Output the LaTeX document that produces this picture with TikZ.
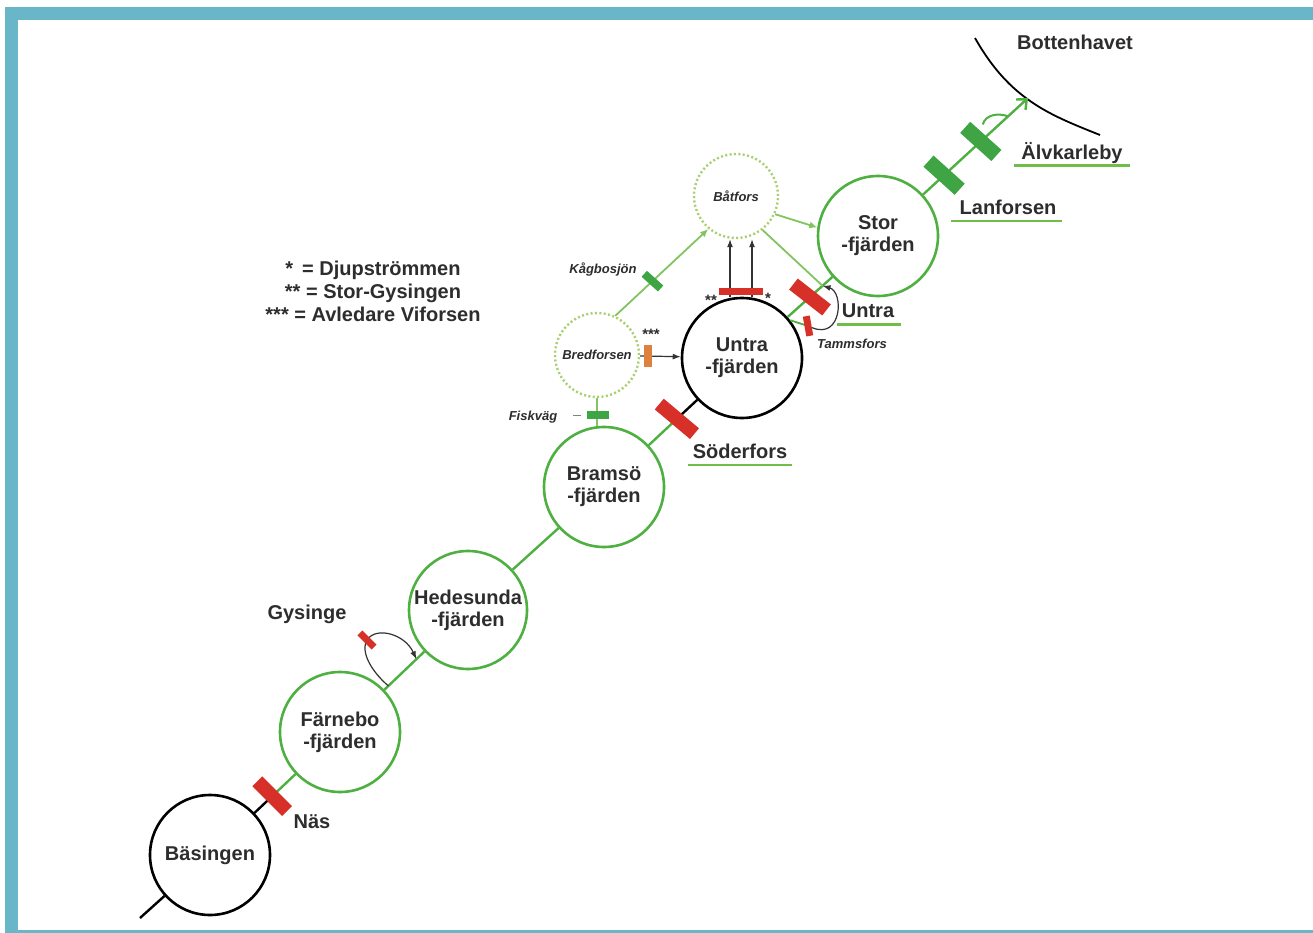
\documentclass[tikz,border=0pt]{standalone}
\usepackage{fontspec}
\setmainfont{Liberation Sans}
\usetikzlibrary{arrows.meta}
\definecolor{framec}{RGB}{104,182,200}
\definecolor{riverg}{RGB}{78,176,64}
\definecolor{liteg}{RGB}{130,196,96}
\definecolor{dotg}{RGB}{168,208,112}
\definecolor{damred}{RGB}{214,48,40}
\definecolor{fishg}{RGB}{62,164,68}
\definecolor{orangec}{RGB}{222,128,62}
\definecolor{ulg}{RGB}{112,190,72}
\definecolor{txt}{RGB}{45,45,45}

\begin{document}
\begin{tikzpicture}[x=1pt,y=-1pt,
  lake/.style={circle,draw=riverg,line width=2.6pt,minimum size=120pt,inner sep=0pt,align=center,text=txt,font=\bfseries\fontsize{20}{22}\selectfont},
  blake/.style={lake,draw=black},
  side/.style={circle,draw=dotg,line width=2.4pt,dash pattern=on 2pt off 2.4pt,minimum size=84pt,inner sep=0pt,text=txt,font=\bfseries\itshape\fontsize{13}{15}\selectfont},
  river/.style={draw=riverg,line width=2.4pt},
  blriver/.style={draw=black,line width=2.4pt},
  thinriver/.style={draw=liteg,line width=1.8pt},
  flow/.style={draw=black!80,line width=1.2pt,-{Latex[length=8pt,width=6pt]}},
  dam/.style={fill=damred,minimum width=42pt,minimum height=14pt,inner sep=0pt},
  smalldam/.style={fill=damred,minimum width=20pt,minimum height=7pt,inner sep=0pt},
  gbar/.style={fill=fishg,minimum width=42pt,minimum height=15pt,inner sep=0pt},
  fishbar/.style={fill=fishg,minimum width=22pt,minimum height=8pt,inner sep=0pt},
  lbl/.style={text=txt,inner sep=1pt,font=\bfseries\fontsize{20}{23}\selectfont},
  ital/.style={text=txt,inner sep=1pt,font=\bfseries\itshape\fontsize{13}{15}\selectfont},
  uline/.style={draw=ulg,line width=2.6pt}]
\useasboundingbox (0,0) rectangle (1313,933);
\fill[white] (0,0) rectangle (1313,933);
\fill[framec] (5,7) rectangle (1313,20);
\fill[framec] (5,7) rectangle (18,933);
\fill[framec] (5,930) rectangle (1313,933);

\node[blake] (bas) at (210,855) {Bäsingen};
\node[lake] (far) at (340,732) {Färnebo\\-fjärden};
\node[lake,minimum size=118pt] (hed) at (468,610) {Hedesunda\\-fjärden};
\node[lake] (bram) at (604,487) {Bramsö\\-fjärden};
\node[blake] (untf) at (742,358) {Untra\\-fjärden};
\node[lake] (stor) at (878,236) {Stor\\-fjärden};
\node[side] (bat) at (736,196) {Båtfors};
\node[side] (bred) at (597,355) {Bredforsen};
\coordinate (src) at (140,918);
\coordinate (sea) at (1028,98);

\draw[line width=1.8pt] (975,38) .. controls (1010,100) and (1050,115) .. (1100,135);
\node[lbl] (botlbl) at (1075,42) {Bottenhavet};

\draw[blriver] (src) -- (bas);
\path (bas) -- (far) coordinate[pos=.43] (nas);
\draw[blriver] (bas) -- (nas);
\draw[river] (nas) -- (far);
\node[dam,rotate=-45] (nasdam) at (nas) {};
\node[lbl] (naslbl) at (312,822) {Näs};

\path (far) -- (hed) coordinate[pos=.1] (gys1) coordinate[pos=.8] (gys2);
\draw[river] (far) -- (hed);
\coordinate (gysb) at (367,640);
\draw[flow] (gys1) .. controls (372,672) and (360,652) .. (gysb) .. controls (376,626) and (405,634) .. (gys2);
\node[smalldam,rotate=-45] (gysdam) at (gysb) {};
\node[lbl] (gyslbl) at (307,614) {Gysinge};

\draw[river] (hed) -- (bram);

\path (bram) -- (untf) coordinate[pos=.58] (sod);
\draw[river] (bram) -- (sod);
\draw[blriver] (sod) -- (untf);
\node[dam,minimum width=46pt,rotate=-40] (soddam) at (sod) {};
\node[lbl] (sodlbl) at (740,451) {Söderfors};
\draw[uline] ([shift={(-4pt,-7pt)}]sodlbl.base west) -- ([shift={(4pt,-7pt)}]sodlbl.base east);

\draw[thinriver] (bred) -- (bred |- bram.north);
\node[fishbar] (fisk) at (598,415) {};
\draw[black!50,line width=1pt] ([xshift=-6pt]fisk.west) -- ++(-8,0);
\node[ital] (fisklbl) at (533,417) {Fiskväg};

\draw[thinriver,-{Latex[length=8pt,width=7pt]}] (bred.65) -- (bat.230) node[pos=.4,fishbar,rotate=-42] (kag) {};
\node[ital] (kaglbl) at (603,270) {Kågbosjön};

\draw[flow] (bred) -- (untf) node[pos=.2,fill=orangec,minimum width=8pt,minimum height=22pt,inner sep=0pt] (avl) {};
\node[ital,font=\bfseries\fontsize{15}{15}\selectfont] at (651,334) {***};

\draw[flow] ([xshift=-12pt]untf.north) -- ([xshift=-12pt]untf.north |- bat.south);
\draw[flow] ([xshift=10pt]untf.north) -- ([xshift=10pt]untf.north |- bat.south);
\node[smalldam,minimum width=22pt] (stg) at (730,291) {};
\node[smalldam,minimum width=22pt] (djp) at (752,291) {};
\node[ital,font=\bfseries\fontsize{15}{15}\selectfont] at (711,300) {**};
\node[ital,font=\bfseries\fontsize{15}{15}\selectfont] at (768,298) {*};

\draw[thinriver,-{Latex[length=8pt,width=7pt]}] (bat.-25) -- (stor.172);

\path (untf) -- (stor) coordinate[pos=.5] (untdam) coordinate[pos=.78] (utop);
\draw[river] (untf) -- (stor);
\draw[thinriver] (bat.-52) -- (utop);
\draw[river,line width=1.8pt] (untf.38) -- (808,326);
\node[dam,rotate=-38] (untd) at (untdam) {};
\node[smalldam,rotate=-80] (tamdam) at (808,326) {};
\draw[flow] (tamdam) .. controls (842,340) and (844,292) .. (utop);
\node[lbl] (untlbl) at (868,311) {Untra};
\draw[uline] ([shift={(-4pt,-7pt)}]untlbl.base west) -- ([shift={(6pt,-7pt)}]untlbl.base east);
\node[ital] (tamlbl) at (852,344) {Tammsfors};

\path (stor) -- (sea) coordinate[pos=.2] (lanf) coordinate[pos=.55] (alvk) coordinate[pos=.81] (ladder);
\draw[river,-{Straight Barb[length=8pt,width=14pt]}] (stor) -- (sea);
\draw[river,line width=2pt] ([shift={(2,-17)}]alvk) to[out=75,in=160] (ladder);
\node[gbar,rotate=-42] (lanbar) at (lanf) {};
\node[gbar,rotate=-42] (alvbar) at (alvk) {};
\node[lbl] (lanlbl) at (1008,207) {Lanforsen};
\draw[uline] ([shift={(-7pt,-7pt)}]lanlbl.base west) -- ([shift={(4pt,-7pt)}]lanlbl.base east);
\node[lbl] (alvlbl) at (1072,153) {Älvkarleby};
\draw[uline] ([shift={(-6pt,-6pt)}]alvlbl.base west) -- ([shift={(6pt,-6pt)}]alvlbl.base east);

\node[lbl,align=center] (legend) at (373,291) {* \,= Djupströmmen\\** = Stor-Gysingen\\*** = Avledare Viforsen};
\end{tikzpicture}
\end{document}
